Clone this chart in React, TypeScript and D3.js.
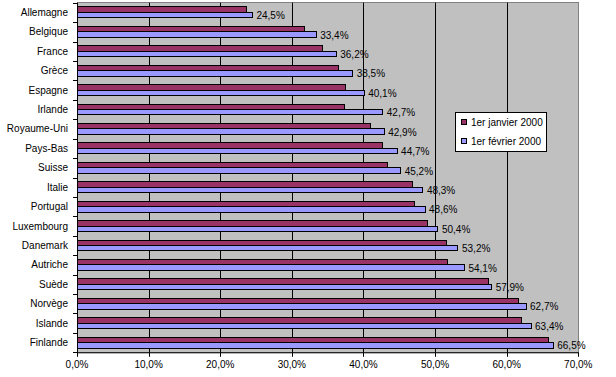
import React from "react";
import * as d3 from "d3";

const categories = [
  "Allemagne", "Belgique", "France", "Grèce", "Espagne", "Irlande", "Royaume-Uni",
  "Pays-Bas", "Suisse", "Italie", "Portugal", "Luxembourg", "Danemark", "Autriche",
  "Suède", "Norvège", "Islande", "Finlande",
];
const seriesNames = ["1er janvier 2000", "1er février 2000"];
const janvier = [23.6, 31.8, 34.3, 36.5, 37.5, 37.4, 41.0, 42.7, 43.4, 46.9, 47.1, 48.9, 51.6, 51.7, 57.5, 61.7, 62.1, 65.9];
const fevrier = [24.5, 33.4, 36.2, 38.5, 40.1, 42.7, 42.9, 44.7, 45.2, 48.3, 48.6, 50.4, 53.2, 54.1, 57.9, 62.7, 63.4, 66.5];
const xTicks = [0, 10, 20, 30, 40, 50, 60, 70];
const colors = ["#993366", "#9999FF"];

const W = 616, H = 377;
const left = 77, right = 578.3, top = 2.7, bottom = 352.3;
const font = "'Liberation Sans', Arial, sans-serif";

const fmt = (v: number) => d3.format(".1f")(v).replace(".", ",") + "%";

export default function App() {
  const x = d3.scaleLinear().domain([0, 70]).range([left, right]);
  const y = d3.scaleBand<string>().domain(categories).range([top, bottom]).padding(0);
  const bw = y.bandwidth();
  const inner = d3.scaleBand<string>().domain(seriesNames).range([bw * 0.22, bw * 0.78]).padding(0);
  const series = [janvier, fevrier];

  return (
    <svg width={W} height={H} style={{ position: "fixed", left: 0, top: 0, background: "#fff" }}
      fontFamily={font} fontSize={10}>
      <rect x={left} y={top} width={right - left} height={bottom - top} fill="#C0C0C0" stroke="#808080" strokeWidth={1} shapeRendering="crispEdges" />
      {xTicks.slice(1, -1).map((t) => (
        <line key={"g" + t} x1={Math.round(x(t)) + 0.5} x2={Math.round(x(t)) + 0.5} y1={top} y2={bottom} stroke="#000" strokeWidth={1} />
      ))}
      {categories.map((c, i) => (
        <g key={c}>
          {series.map((s, k) => (
            <rect key={k} x={x(0)} y={(y(c) as number) + (inner(seriesNames[k]) as number)}
              width={x(s[i]) - x(0)} height={inner.bandwidth()} fill={colors[k]} stroke="#000" strokeWidth={1} shapeRendering="crispEdges" />
          ))}
          <text x={x(fevrier[i]) + 4} y={(y(c) as number) + (inner(seriesNames[1]) as number) + inner.bandwidth() / 2 + 4} fill="#000">
            {fmt(fevrier[i])}
          </text>
          <text x={68} y={(y(c) as number) + bw / 2 + 3.5} textAnchor="end" fill="#000">{c}</text>
        </g>
      ))}
      {/* axes */}
      <line x1={left + 0.5} x2={left + 0.5} y1={top} y2={bottom + 0.5} stroke="#000" />
      <line x1={left} x2={right} y1={bottom + 0.5} y2={bottom + 0.5} stroke="#000" />
      {d3.range(categories.length + 1).map((k) => {
        const yy = Math.round(top + k * bw) + 0.5;
        return <line key={"yt" + k} x1={left - 4} x2={left} y1={yy} y2={yy} stroke="#000" />;
      })}
      {xTicks.map((t) => (
        <g key={"xt" + t}>
          <line x1={Math.round(x(t)) + 0.5} x2={Math.round(x(t)) + 0.5} y1={bottom} y2={bottom + 4.5} stroke="#000" />
          <text x={x(t)} y={368} textAnchor="middle" fill="#000">{fmt(t)}</text>
        </g>
      ))}
      {/* legend */}
      <rect x={455.5} y={112.5} width={91} height={39} fill="#fff" stroke="#000" />
      {seriesNames.map((n, k) => (
        <g key={n}>
          <rect x={461.5} y={119.5 + k * 19} width={5} height={5} fill={colors[k]} stroke="#000" />
          <text x={471} y={125.5 + k * 19.3} fill="#000">{n}</text>
        </g>
      ))}
    </svg>
  );
}
